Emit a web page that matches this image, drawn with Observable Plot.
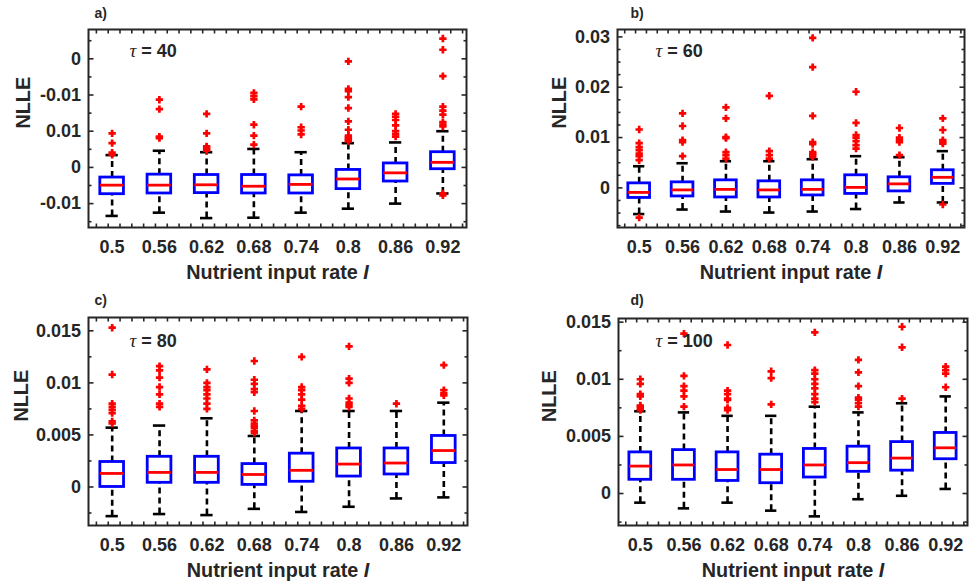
<!DOCTYPE html>
<html>
<head>
<meta charset="utf-8">
<script src="https://cdn.jsdelivr.net/npm/d3@7"></script>
<script src="https://cdn.jsdelivr.net/npm/@observablehq/plot@0.6"></script>
<style>
  body { margin: 0; background: #fff; }
  #fig { position: relative; width: 973px; height: 585px; overflow: hidden; background: #fff; }
  #fig svg { position: absolute; }
</style>
</head>
<body>
<div id="fig"></div>
<script>
// ---------- data ----------
const categories = [0.5, 0.56, 0.62, 0.68, 0.74, 0.8, 0.86, 0.92];
const categoryLabels = ["0.5", "0.56", "0.62", "0.68", "0.74", "0.8", "0.86", "0.92"];
const xTitle = "Nutrient input rate I";
const yTitle = "NLLE";

// panel a (tau = 40)
const medA = [-0.0049, -0.0049, -0.0048, -0.0052, -0.0047, -0.0032, -0.0015, 0.0014];
const q1A  = [-0.0074, -0.0072, -0.0071, -0.0072, -0.0072, -0.0060, -0.0039, -0.0005];
const q3A  = [-0.0028, -0.0020, -0.0021, -0.0021, -0.0022, -0.0007, 0.0011, 0.0042];
const loA  = [-0.0134, -0.0125, -0.0140, -0.0139, -0.0125, -0.0114, -0.0100, -0.0072];
const hiA  = [0.0034, 0.0046, 0.0042, 0.0051, 0.0042, 0.0067, 0.0069, 0.0100];
const outA = [
  [0.0094, 0.0067, 0.0041, 0.0035],
  [0.0187, 0.0161, 0.0085, 0.0081],
  [0.0148, 0.0094, 0.0058, 0.0055, 0.0050, 0.0046],
  [0.0206, 0.0197, 0.0188, 0.0118, 0.0088, 0.0063],
  [0.0168, 0.0111, 0.0102, 0.0091],
  [0.0293, 0.0217, 0.0211, 0.0194, 0.0164, 0.0127, 0.0104, 0.0088, 0.0083, 0.0079, 0.0076, 0.0072],
  [0.0148, 0.0140, 0.0131, 0.0116, 0.0100, 0.0092, 0.0085],
  [0.0356, 0.0325, 0.0252, 0.0168, 0.0157, 0.0146, 0.0125, 0.0118, 0.0113, -0.0072, -0.0077]
];
const yTicksA = [-0.01, 0, 0.01, 0.02, 0.03];
const yLabelsA = ["-0.01", "0", "0.01", "-0.01", "0"];

// panel b (tau = 60)
const medB = [-0.0009, -0.0004, -0.0003, -0.0004, -0.0003, 0.0001, 0.0008, 0.0021];
const q1B  = [-0.0020, -0.0017, -0.0019, -0.0019, -0.0015, -0.0012, -0.0007, 0.0008];
const q3B  = [0.0009, 0.0011, 0.0015, 0.0013, 0.0015, 0.0025, 0.0021, 0.0035];
const loB  = [-0.0052, -0.0043, -0.0047, -0.0049, -0.0047, -0.0042, -0.0029, -0.0029];
const hiB  = [0.0043, 0.0049, 0.0053, 0.0053, 0.0057, 0.0063, 0.0061, 0.0073];
const outB = [
  [0.0116, 0.0089, 0.0081, 0.0075, 0.0068, 0.0063, 0.0055, -0.0059],
  [0.0148, 0.0123, 0.0095, 0.0091, 0.0063],
  [0.0160, 0.0138, 0.0101, 0.0099, 0.0071, 0.0065, 0.0058],
  [0.0183, 0.0073, 0.0065, 0.0058],
  [0.0298, 0.0240, 0.0143, 0.0091, 0.0087, 0.0071, 0.0068, 0.0065, 0.0061],
  [0.0191, 0.0129, 0.0105, 0.0100, 0.0093, 0.0085, 0.0078],
  [0.0119, 0.0100, 0.0095, 0.0091, 0.0065],
  [0.0138, 0.0115, 0.0095, 0.0091, 0.0088, -0.0033]
];
const yTicksB = [0, 0.01, 0.02, 0.03];
const yLabelsB = ["0", "0.01", "0.02", "0.03"];

// panel c (tau = 80)
const medC = [0.0013, 0.0014, 0.0014, 0.0012, 0.0016, 0.0022, 0.0023, 0.0035];
const q1C  = [0.0000, 0.0004, 0.0004, 0.0002, 0.0005, 0.0010, 0.0012, 0.0023];
const q3C  = [0.0024, 0.0029, 0.0029, 0.0022, 0.0032, 0.0037, 0.0037, 0.0049];
const loC  = [-0.0028, -0.0026, -0.0027, -0.0021, -0.0024, -0.0019, -0.0011, -0.0010];
const hiC  = [0.0057, 0.0059, 0.0066, 0.0049, 0.0073, 0.0073, 0.0073, 0.0081];
const outC = [
  [0.0153, 0.0108, 0.0080, 0.0077, 0.0074, 0.0071, 0.0063, 0.0061],
  [0.0116, 0.0112, 0.0105, 0.0096, 0.0089, 0.0080, 0.0077],
  [0.0113, 0.0100, 0.0096, 0.0093, 0.0089, 0.0085, 0.0080, 0.0075],
  [0.0121, 0.0103, 0.0099, 0.0094, 0.0091, 0.0073, 0.0064, 0.0061, 0.0059, 0.0057, 0.0054, 0.0052],
  [0.0125, 0.0096, 0.0093, 0.0089, 0.0084, 0.0078, 0.0075],
  [0.0135, 0.0104, 0.0100, 0.0085, 0.0081, 0.0079, 0.0077],
  [0.0080],
  [0.0117, 0.0093, 0.0090, 0.0088]
];
const yTicksC = [0, 0.005, 0.01, 0.015];
const yLabelsC = ["0", "0.005", "0.01", "0.015"];

// panel d (tau = 100)
const medD = [0.0024, 0.0025, 0.0021, 0.0021, 0.0025, 0.0027, 0.0031, 0.0040];
const q1D  = [0.0012, 0.0012, 0.0011, 0.0009, 0.0014, 0.0019, 0.0020, 0.0030];
const q3D  = [0.0036, 0.0038, 0.0036, 0.0034, 0.0039, 0.0041, 0.0045, 0.0053];
const loD  = [-0.0008, -0.0013, -0.0008, -0.0015, -0.0020, -0.0005, -0.0002, 0.0004];
const hiD  = [0.0072, 0.0071, 0.0068, 0.0068, 0.0076, 0.0071, 0.0079, 0.0085];
const outD = [
  [0.0100, 0.0096, 0.0087, 0.0085, 0.0077, 0.0076, 0.0074, 0.0073],
  [0.0140, 0.0103, 0.0094, 0.0090, 0.0085, 0.0076],
  [0.0130, 0.0090, 0.0087, 0.0083, 0.0082, 0.0075, 0.0073],
  [0.0107, 0.0101, 0.0078],
  [0.0141, 0.0108, 0.0105, 0.0100, 0.0096, 0.0092, 0.0087, 0.0083, 0.0080],
  [0.0117, 0.0106, 0.0094, 0.0084, 0.0082, 0.0079, 0.0076],
  [0.0146, 0.0128, 0.0083],
  [0.0111, 0.0108, 0.0105, 0.0093]
];
const yTicksD = [0, 0.005, 0.01, 0.015];
const yLabelsD = ["0", "0.005", "0.01", "0.015"];

// ---------- layout / style ----------
const panels = [
  {tag: "a)", tau: "τ = 40", med: medA, q1: q1A, q3: q3A, lo: loA, hi: hiA, out: outA,
   yTicks: yTicksA, yLabels: yLabelsA, minorStep: 0.005, domain: [-0.0166, 0.0381],
   left: 0, top: 0, width: 490, height: 290, ml: 88, mr: 24, mt: 29, mb: 63,
   tagDx: 6, tagDy: -12, tauDx: 41, tauDy: 27, yTitleDx: -65},
  {tag: "b)", tau: "τ = 60", med: medB, q1: q1B, q3: q3B, lo: loB, hi: hiB, out: outB,
   yTicks: yTicksB, yLabels: yLabelsB, minorStep: 0.0025, domain: [-0.00787, 0.03147],
   left: 490, top: 0, width: 483, height: 290, ml: 127, mr: 9, mt: 29, mb: 63,
   tagDx: 13, tagDy: -12, tauDx: 38, tauDy: 27, yTitleDx: -58},
  {tag: "c)", tau: "τ = 80", med: medC, q1: q1C, q3: q3C, lo: loC, hi: hiC, out: outC,
   yTicks: yTicksC, yLabels: yLabelsC, minorStep: 0.0025, domain: [-0.0037, 0.01628],
   left: 0, top: 290, width: 490, height: 295, ml: 88, mr: 23, mt: 27, mb: 60,
   tagDx: 6, tagDy: -13, tauDx: 41, tauDy: 29, yTitleDx: -67},
  {tag: "d)", tau: "τ = 100", med: medD, q1: q1D, q3: q3D, lo: loD, hi: hiD, out: outD,
   yTicks: yTicksD, yLabels: yLabelsD, minorStep: 0.0025, domain: [-0.0028, 0.01532],
   left: 490, top: 290, width: 483, height: 295, ml: 128, mr: 6, mt: 28, mb: 60,
   tagDx: 12, tagDy: -14, tauDx: 37, tauDy: 28, yTitleDx: -69}
];

const AXIS = "#262626";
const catStep = categories[1] - categories[0];
const boxHalf = 0.25 * catStep;
const capHalf = 0.13 * catStep;

const seg = (dx, dy) => ({draw(ctx) { ctx.moveTo(0, 0); ctx.lineTo(dx, dy); }});

function stepValues(d0, d1, step) {
  const out = [];
  for (let k = Math.ceil(d0 / step - 1e-9); k <= Math.floor(d1 / step + 1e-9); k++) out.push(+(k * step).toFixed(6));
  return out;
}

function makePanel(p) {
  const rows = categories.map((c, i) => ({c, q1: p.q1[i], med: p.med[i], q3: p.q3[i], lo: p.lo[i], hi: p.hi[i]}));
  const outliers = categories.flatMap((c, i) => p.out[i].map(v => ({c, v})));
  const xDomain = [categories[0] - catStep / 2, categories[categories.length - 1] + catStep / 2];
  const xMinor = stepValues(xDomain[0], xDomain[1], catStep / 4);
  const yAll = stepValues(p.domain[0], p.domain[1], p.minorStep);
  const isMajor = v => p.yTicks.some(t => Math.abs(t - v) < 1e-9);
  const yMajor = yAll.filter(isMajor);
  const yMinor = yAll.filter(v => !isMajor(v));
  const tk = {fill: "none", stroke: AXIS, strokeWidth: 1.6};

  const svg = Plot.plot({
    width: p.width, height: p.height,
    marginLeft: p.ml, marginRight: p.mr, marginTop: p.mt, marginBottom: p.mb,
    x: {domain: xDomain, label: null},
    y: {domain: p.domain, label: null},
    style: {fontFamily: "'Liberation Sans', Arial, Helvetica, sans-serif", fontSize: "18px", fontWeight: "bold", color: AXIS, background: "white"},
    marks: [
      Plot.ruleX(rows, {x: "c", y1: "q3", y2: "hi", stroke: "black", strokeWidth: 2.6, strokeDasharray: "6,4"}),
      Plot.ruleX(rows, {x: "c", y1: "lo", y2: "q1", stroke: "black", strokeWidth: 2.6, strokeDasharray: "6,4"}),
      Plot.ruleY(rows, {y: "hi", x1: d => d.c - capHalf, x2: d => d.c + capHalf, stroke: "black", strokeWidth: 2.6}),
      Plot.ruleY(rows, {y: "lo", x1: d => d.c - capHalf, x2: d => d.c + capHalf, stroke: "black", strokeWidth: 2.6}),
      Plot.rect(rows, {x1: d => d.c - boxHalf, x2: d => d.c + boxHalf, y1: "q1", y2: "q3", fill: "none", stroke: "#0000ff", strokeWidth: 2.8}),
      Plot.ruleY(rows, {y: "med", x1: d => d.c - boxHalf, x2: d => d.c + boxHalf, stroke: "#ff0000", strokeWidth: 2.8}),
      Plot.dot(outliers, {x: "c", y: "v", symbol: "plus", r: 2.5, fill: "none", stroke: "#ff0000", strokeWidth: 2.7}),
      Plot.frame({stroke: AXIS, strokeWidth: 2}),
      // inward ticks
      Plot.dot(xMinor, {x: d => d, frameAnchor: "bottom", symbol: seg(0, -4), ...tk}),
      Plot.dot(xMinor, {x: d => d, frameAnchor: "top", symbol: seg(0, 4), ...tk}),
      Plot.dot(yMajor, {y: d => d, frameAnchor: "left", symbol: seg(5, 0), ...tk}),
      Plot.dot(yMajor, {y: d => d, frameAnchor: "right", symbol: seg(-5, 0), ...tk}),
      Plot.dot(yMinor, {y: d => d, frameAnchor: "left", symbol: seg(3, 0), ...tk}),
      Plot.dot(yMinor, {y: d => d, frameAnchor: "right", symbol: seg(-3, 0), ...tk}),
      // tick labels
      Plot.axisX({ticks: categories, tickFormat: d => categoryLabels[categories.indexOf(d)], tickSize: 0, tickPadding: 12.5, label: null}),
      Plot.axisY({ticks: p.yTicks, tickFormat: d => p.yLabels[p.yTicks.indexOf(d)], tickSize: 0, tickPadding: 7.5, label: null}),
      // titles and annotations
      Plot.text([xTitle], {text: d => d, frameAnchor: "bottom", dy: 51.5, lineAnchor: "bottom", fontSize: 19.8}),
      Plot.text([yTitle], {text: d => d, frameAnchor: "left", dx: p.yTitleDx, rotate: -90, lineAnchor: "middle", fontSize: 19.8}),
      Plot.text([p.tag], {text: d => d, frameAnchor: "top-left", dx: p.tagDx, dy: p.tagDy, lineAnchor: "bottom", textAnchor: "start", fontSize: 14}),
      Plot.text([p.tau], {text: d => d, frameAnchor: "top-left", dx: p.tauDx, dy: p.tauDy, lineAnchor: "bottom", textAnchor: "start", fontSize: 18})
    ]
  });

  // rich text: italic I and math tau
  const NS = "http://www.w3.org/2000/svg";
  svg.querySelectorAll("text").forEach(t => {
    const s = t.textContent;
    if (s === xTitle) {
      t.textContent = xTitle.slice(0, -1);
      const ts = document.createElementNS(NS, "tspan");
      ts.setAttribute("font-style", "italic");
      ts.textContent = xTitle.slice(-1);
      t.appendChild(ts);
    } else if (s === p.tau) {
      t.textContent = "";
      const ts = document.createElementNS(NS, "tspan");
      ts.setAttribute("font-family", "'Liberation Serif', 'DejaVu Serif', serif");
      ts.setAttribute("font-style", "italic");
      ts.setAttribute("font-weight", "normal");
      ts.setAttribute("font-size", "19");
      ts.textContent = s.charAt(0);
      t.appendChild(ts);
      t.appendChild(document.createTextNode(s.slice(1)));
    }
  });
  svg.style.left = p.left + "px";
  svg.style.top = p.top + "px";
  return svg;
}

const fig = document.getElementById("fig");
panels.forEach(p => fig.appendChild(makePanel(p)));
</script>
</body>
</html>
